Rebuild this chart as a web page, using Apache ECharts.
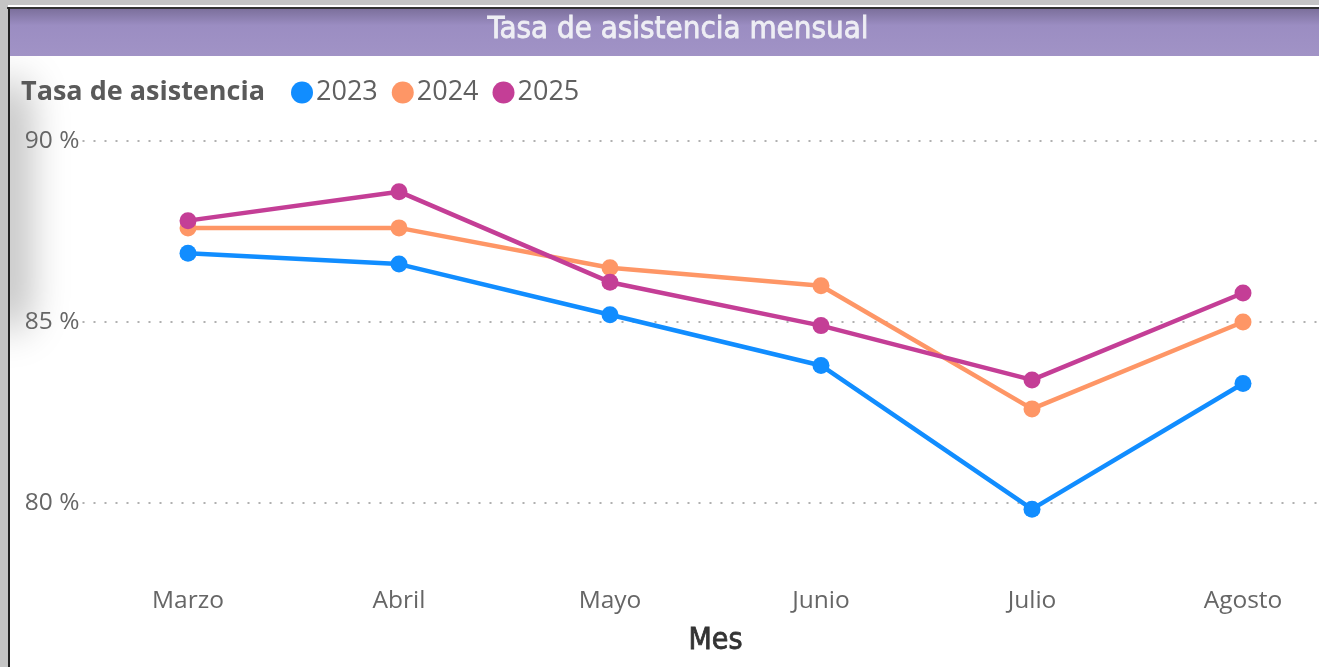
<!DOCTYPE html>
<html>
<head>
<meta charset="utf-8">
<script src="https://cdn.jsdelivr.net/npm/echarts@6/dist/echarts.min.js"></script>
<style>
  html, body { margin: 0; padding: 0; background: #fff; }
  #chart { width: 1319px; height: 667px; }
</style>
</head>
<body>
<div id="chart"></div>
<script>
const months = ['Marzo', 'Abril', 'Mayo', 'Junio', 'Julio', 'Agosto']
const years = ['2023', '2024', '2025']
const rate2023 = [86.9, 86.6, 85.2, 83.8, 79.83, 83.3]
const rate2024 = [87.6, 87.6, 86.5, 86.0, 82.6, 85.0]
const rate2025 = [87.8, 88.6, 86.1, 84.9, 83.4, 85.8]
const colors = ['#118DFF', '#FE9666', '#C43E96']

const chart = echarts.init(document.getElementById('chart'))

function lineSeries(name, data, color) {
  return {
    name,
    type: 'line',
    data,
    clip: false,
    symbol: 'circle',
    symbolSize: 17,
    lineStyle: { width: 4.5, color },
    itemStyle: { color },
    emphasis: { disabled: true }
  }
}

const option = {
  animation: false,
  backgroundColor: '#fff',
  graphic: [
    // soft shadow on the left edge
    {
      type: 'rect', left: -40, top: 80, shape: { width: 40, height: 250, r: 20 }, silent: true,
      style: { fill: '#888', shadowBlur: 40, shadowColor: 'rgba(0,0,0,0.28)', shadowOffsetX: 28 }
    },
    // outer frame
    { type: 'rect', left: 0, top: 0, shape: { width: 1319, height: 5 }, style: { fill: '#c4c4c4' }, silent: true },
    { type: 'rect', left: 0, top: 0, shape: { width: 8, height: 667 }, style: { fill: '#c4c4c4' }, silent: true },
    { type: 'rect', left: 7, top: 7, shape: { width: 1312, height: 2 }, style: { fill: '#333' }, silent: true },
    { type: 'rect', left: 8, top: 7, shape: { width: 2, height: 660 }, style: { fill: '#222' }, silent: true },
    // title bar
    {
      type: 'rect', left: 10, top: 9, shape: { width: 1309, height: 47 }, silent: true,
      style: {
        fill: {
          type: 'linear', x: 0, y: 0, x2: 0, y2: 1,
          colorStops: [
            { offset: 0, color: '#7c709c' },
            { offset: 0.35, color: '#9b8dc2' },
            { offset: 1, color: '#a193c6' }
          ]
        }
      }
    },
    {
      type: 'text', x: 678, y: 30, silent: true,
      style: {
        text: 'Tasa de asistencia mensual',
        fill: '#eeeef4',
        stroke: '#eeeef4',
        lineWidth: 0.8,
        font: '31px "DejaVu Sans Condensed"',
        align: 'center',
        verticalAlign: 'middle'
      }
    },
    {
      type: 'text', x: 21, y: 92, silent: true,
      style: {
        text: 'Tasa de asistencia',
        fill: '#5a5a5a',
        font: 'bold 27px "Open Sans"',
        verticalAlign: 'middle'
      }
    }
  ],
  legend: {
    data: years,
    left: 286,
    top: 74,
    icon: 'circle',
    itemWidth: 22,
    itemHeight: 22,
    itemGap: 14,
    textStyle: { color: '#606060', fontSize: 27, fontFamily: 'Open Sans', padding: [0, 0, 0, -2] }
  },
  grid: { left: 82.5, top: 141, width: 1266, height: 362, outerBoundsMode: 'none', containLabel: false },
  xAxis: {
    type: 'category',
    data: months,
    boundaryGap: true,
    axisLine: { show: false },
    axisTick: { show: false },
    axisLabel: { color: '#666', fontSize: 24.5, fontFamily: 'Open Sans', margin: 86 },
    name: 'Mes',
    nameLocation: 'middle',
    nameGap: 123,
    nameTextStyle: {
      color: '#333', fontSize: 30, fontFamily: 'DejaVu Sans Condensed',
      textBorderColor: '#333', textBorderWidth: 0.8
    }
  },
  yAxis: {
    type: 'value',
    min: 80,
    max: 90,
    interval: 5,
    axisLine: { show: false },
    axisTick: { show: false },
    axisLabel: { color: '#666', fontSize: 24.5, fontFamily: 'Open Sans', margin: 3, formatter: '{value} %' },
    splitLine: { lineStyle: { color: '#b0b0b0', type: [2, 9], width: 2 } }
  },
  series: [
    lineSeries('2023', rate2023, colors[0]),
    lineSeries('2024', rate2024, colors[1]),
    lineSeries('2025', rate2025, colors[2])
  ]
}

chart.setOption(option)
</script>
</body>
</html>
